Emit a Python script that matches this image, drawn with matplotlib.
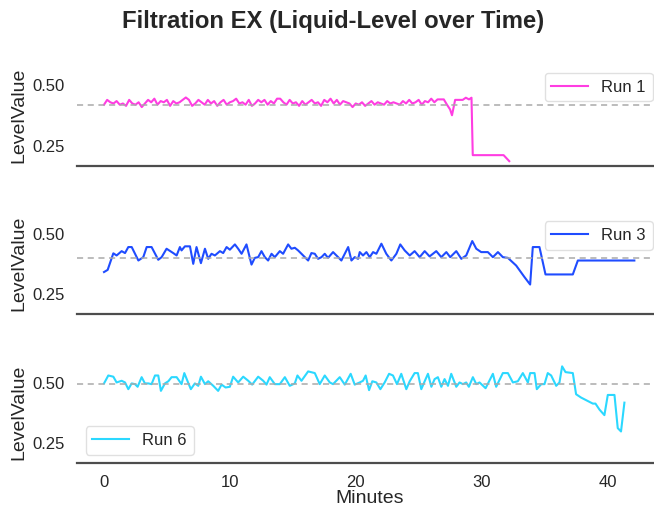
import matplotlib
matplotlib.use('Agg')
import matplotlib.pyplot as plt
from matplotlib.ticker import MultipleLocator

plt.rcParams['font.family'] = ['Liberation Sans', 'DejaVu Sans']
plt.rcParams['text.color'] = '0.15'
plt.rcParams['axes.labelcolor'] = '0.15'
plt.rcParams['xtick.color'] = '0.15'
plt.rcParams['ytick.color'] = '0.15'

# Run 1 (minutes, level)
run1_t = [0, 0.25, 0.5, 0.75, 1, 1.25, 1.5, 1.75, 2, 2.25,
          2.5, 2.75, 3, 3.25, 3.5, 3.75, 4, 4.25, 4.5, 4.75,
          5, 5.25, 5.5, 5.75, 6, 6.25, 6.5, 6.75, 7, 7.25,
          7.5, 7.75, 8, 8.25, 8.5, 8.75, 9, 9.25, 9.5, 9.75,
          10, 10.25, 10.5, 10.75, 11, 11.25, 11.5, 11.75, 12, 12.25,
          12.5, 12.75, 13, 13.25, 13.5, 13.75, 14, 14.25, 14.5, 14.75,
          15, 15.25, 15.5, 15.75, 16, 16.25, 16.5, 16.75, 17, 17.25,
          17.5, 17.75, 18, 18.25, 18.5, 18.75, 19, 19.25, 19.5, 19.75,
          20, 20.25, 20.5, 20.75, 21, 21.25, 21.5, 21.75, 22, 22.25,
          22.5, 22.75, 23, 23.25, 23.5, 23.75, 24, 24.25, 24.5, 24.75,
          25, 25.25, 25.5, 25.75, 26, 26.25,
          26.5, 26.75, 27, 27.25, 27.5, 27.65, 27.9, 28.25, 28.5, 28.75,
          29, 29.2, 29.3, 29.75, 30.25, 30.75, 31.25, 31.75, 32.2]
run1_v = [0.420, 0.440, 0.430, 0.425, 0.435, 0.420, 0.425, 0.415, 0.440, 0.425,
          0.420, 0.430, 0.410, 0.425, 0.440, 0.430, 0.445, 0.420, 0.435, 0.430,
          0.440, 0.415, 0.435, 0.425, 0.430, 0.440, 0.450, 0.440, 0.415, 0.425,
          0.440, 0.430, 0.420, 0.440, 0.425, 0.435, 0.415, 0.430, 0.440, 0.420,
          0.430, 0.435, 0.445, 0.425, 0.430, 0.420, 0.440, 0.415, 0.425, 0.440,
          0.430, 0.440, 0.420, 0.435, 0.425, 0.445, 0.445, 0.430, 0.420, 0.440,
          0.425, 0.430, 0.415, 0.435, 0.420, 0.430, 0.440, 0.425, 0.430, 0.415,
          0.440, 0.430, 0.445, 0.425, 0.440, 0.420, 0.435, 0.430, 0.425, 0.410,
          0.425, 0.420, 0.430, 0.415, 0.425, 0.435, 0.420, 0.430, 0.425, 0.420,
          0.435, 0.425, 0.430, 0.425, 0.420, 0.435, 0.425, 0.440, 0.425, 0.430,
          0.440, 0.420, 0.435, 0.430, 0.445, 0.430,
          0.442, 0.442, 0.442, 0.420, 0.400, 0.376, 0.440, 0.440, 0.440, 0.449,
          0.442, 0.449, 0.210, 0.210, 0.210, 0.210, 0.210, 0.210, 0.185]

# Run 3
run3_t = [0, 0.29, 0.74, 1.0, 1.4, 1.67, 1.93, 2.2, 2.73, 3.12,
          3.39, 3.78, 4.31, 4.58, 4.97, 5.5, 5.77, 6.03, 6.16, 6.43,
          6.83, 7.09, 7.35, 7.7, 8.02, 8.28, 8.54, 8.81, 9.21, 9.47,
          9.74, 10.0, 10.4, 10.66, 10.93, 11.32, 11.72, 11.98, 12.25, 12.51,
          12.78, 13.04, 13.31, 13.57, 13.97, 14.23, 14.63, 14.89, 15.16, 15.42,
          15.69, 16.22, 16.48, 16.75, 17.01, 17.28, 17.54, 17.8, 18.2, 18.6,
          18.86, 19.4, 19.66, 19.92, 20.19, 20.32, 20.58, 20.85, 21.11, 21.38,
          21.64, 22.04, 22.43, 22.83, 23.23, 23.54, 23.89, 24.29, 24.68, 25.08,
          25.48, 25.87, 26.4, 26.8, 27.2, 27.51, 27.99, 28.39, 28.78, 29.26,
          29.58, 29.97, 30.5, 30.9, 31.3, 31.69, 32.09, 32.75, 33.41, 33.86,
          34.07, 34.6, 35.08, 37.25, 37.65, 42.14]
run3_v = [0.342, 0.351, 0.420, 0.411, 0.429, 0.421, 0.446, 0.446, 0.390, 0.404,
          0.446, 0.446, 0.393, 0.404, 0.439, 0.421, 0.411, 0.446, 0.432, 0.449,
          0.449, 0.376, 0.446, 0.379, 0.439, 0.397, 0.418, 0.411, 0.429, 0.421,
          0.446, 0.435, 0.457, 0.439, 0.418, 0.457, 0.373, 0.401, 0.404, 0.429,
          0.404, 0.390, 0.418, 0.404, 0.429, 0.418, 0.457, 0.439, 0.443, 0.432,
          0.418, 0.390, 0.421, 0.418, 0.397, 0.404, 0.418, 0.401, 0.425, 0.404,
          0.390, 0.446, 0.390, 0.404, 0.397, 0.425, 0.411, 0.425, 0.404, 0.425,
          0.418, 0.460, 0.418, 0.390, 0.418, 0.457, 0.432, 0.411, 0.429, 0.404,
          0.429, 0.407, 0.429, 0.404, 0.425, 0.404, 0.429, 0.397, 0.411, 0.471,
          0.439, 0.425, 0.425, 0.404, 0.425, 0.404, 0.401, 0.369, 0.321, 0.290,
          0.446, 0.446, 0.332, 0.332, 0.390, 0.390]

# Run 6
run6_t = [0, 0.34, 0.74, 1.0, 1.4, 1.67, 1.93, 2.2, 2.46, 2.67,
          2.99, 3.25, 3.52, 3.78, 4.05, 4.31, 4.52, 4.84, 5.11, 5.37,
          5.77, 6.16, 6.38, 6.64, 6.9, 7.22, 7.49, 7.7, 8.02, 8.28,
          8.68, 9.07, 9.34, 9.66, 10.0, 10.26, 10.66, 11.06, 11.46, 11.77,
          12.25, 12.65, 12.91, 13.17, 13.57, 13.97, 14.37, 14.76, 15.16, 15.37,
          15.69, 16.22, 16.75, 17.14, 17.54, 17.94, 18.2, 18.73, 19.13, 19.6,
          19.92, 20.32, 20.58, 20.79, 21.06, 21.32, 21.64, 21.96, 22.3, 22.65,
          22.96, 23.28, 23.62, 24.02, 24.29, 24.68, 24.94, 25.21, 25.48, 25.74,
          26.01, 26.27, 26.53, 26.8, 27.06, 27.33, 27.59, 27.99, 28.25, 28.52,
          28.78, 28.99, 29.31, 29.58, 29.84, 30.32, 30.9, 31.16, 31.69, 32.09,
          32.49, 32.88, 33.28, 33.68, 33.86, 34.21, 34.39, 34.74, 35.0, 35.26,
          35.53, 35.93, 36.19, 36.4, 36.67, 37.25, 37.51, 37.91, 38.84, 39.05,
          39.37, 39.76, 40.03, 40.56, 40.82, 41.08, 41.35]
run6_v = [0.497, 0.530, 0.525, 0.501, 0.508, 0.501, 0.473, 0.497, 0.494, 0.483,
          0.523, 0.497, 0.497, 0.494, 0.530, 0.530, 0.466, 0.497, 0.506, 0.523,
          0.523, 0.494, 0.540, 0.506, 0.473, 0.497, 0.487, 0.525, 0.494, 0.506,
          0.487, 0.466, 0.492, 0.480, 0.483, 0.525, 0.501, 0.525, 0.508, 0.492,
          0.525, 0.508, 0.492, 0.523, 0.494, 0.494, 0.523, 0.487, 0.497, 0.530,
          0.508, 0.547, 0.540, 0.494, 0.530, 0.501, 0.494, 0.523, 0.492, 0.537,
          0.492, 0.501, 0.508, 0.530, 0.469, 0.506, 0.501, 0.473, 0.501, 0.537,
          0.530, 0.494, 0.537, 0.473, 0.506, 0.540, 0.540, 0.473, 0.506, 0.537,
          0.483, 0.515, 0.523, 0.483, 0.515, 0.487, 0.537, 0.483, 0.501, 0.494,
          0.501, 0.483, 0.523, 0.494, 0.501, 0.477, 0.537, 0.483, 0.540, 0.540,
          0.501, 0.506, 0.540, 0.501, 0.540, 0.540, 0.473, 0.494, 0.494, 0.540,
          0.530, 0.487, 0.501, 0.568, 0.544, 0.540, 0.452, 0.438, 0.413, 0.413,
          0.388, 0.365, 0.449, 0.449, 0.311, 0.297, 0.417]

runs = ['Run 1', 'Run 3', 'Run 6']
run_times = [run1_t, run3_t, run6_t]
run_levels = [run1_v, run3_v, run6_v]
# dashed reference level of each run
ref_levels = [0.417, 0.401, 0.493]
colors = ['#ff3de2', '#1f4cff', '#2bd8ff']
legend_locs = ['upper right', 'upper right', 'lower left']

fig, axes = plt.subplots(3, 1, figsize=(6.54, 5.08), dpi=100, sharex=True, sharey=True)
fig.subplots_adjust(left=0.1185, right=1.0105, bottom=0.0886, top=0.873, hspace=0.468)
fig.suptitle('Filtration EX (Liquid-Level over Time)', x=0.51, y=0.957, va='center',
             fontsize=17.2, fontweight='bold')

for ax, name, t, v, ref, c, loc in zip(axes, runs, run_times, run_levels, ref_levels, colors, legend_locs):
    ax.plot(t, v, color=c, lw=1.5, label=name)
    ax.axhline(ref, color='#aaaaaa', lw=1.1, ls='--', dashes=(4, 3))
    for s in ['top', 'right', 'left']:
        ax.spines[s].set_visible(False)
    ax.spines['bottom'].set_color('0.3')
    ax.spines['bottom'].set_linewidth(1.6)
    ax.yaxis.set_major_locator(MultipleLocator(0.25))
    ax.tick_params(axis='y', length=0, pad=9.5, labelsize=12)
    ax.tick_params(axis='x', length=0, pad=8.5, labelsize=12)
    ax.set_ylabel('LevelValue', fontsize=14, labelpad=3)
    leg = ax.legend(loc=loc, fontsize=12, handlelength=2.2, framealpha=0.8)
    leg.get_frame().set_edgecolor('0.85')

axes[-1].set_xlabel('Minutes', fontsize=14, labelpad=0.5)

fig.savefig('out.png', dpi=100)
